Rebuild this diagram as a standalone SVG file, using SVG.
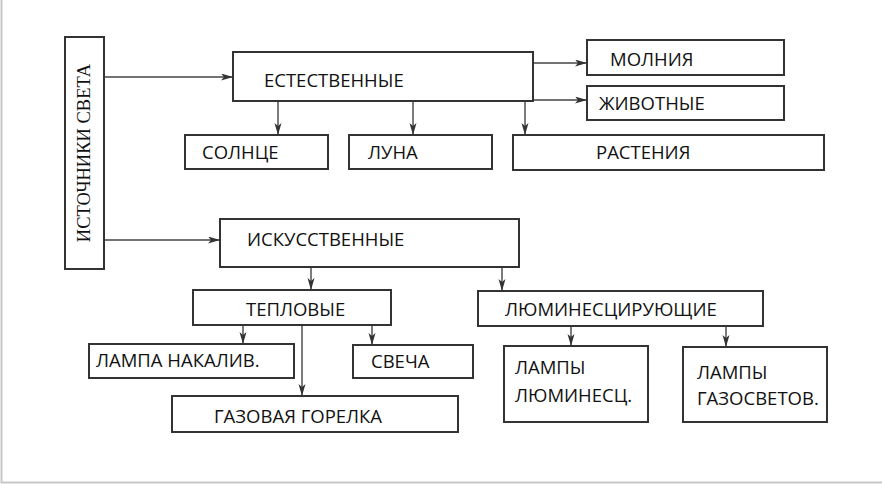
<svg xmlns="http://www.w3.org/2000/svg" width="882" height="484" viewBox="0 0 882 484">
<style>
.box{fill:#fff;stroke:#333;stroke-width:2}
.t{font-family:"Open Sans","Noto Sans","DejaVu Sans",sans-serif;font-size:18.5px;fill:#111}
.c{fill:none;stroke:#444;stroke-width:1.4;marker-end:url(#ah)}
</style>
<defs>
<marker id="ah" markerUnits="userSpaceOnUse" markerWidth="12" markerHeight="8" refX="11" refY="3.5" orient="auto">
<path d="M0,0 L12,3.5 L0,7 L3,3.5 z" fill="#333"/>
</marker>
</defs>
<rect x="0" y="0" width="882" height="484" fill="#fff"/>
<path d="M1.5,0 V482.5 H882" fill="none" stroke="#c8c8c8" stroke-width="2"/>
<g id="connectors">
<path class="c" d="M104,77 H232"/>
<path class="c" d="M104,240 H219"/>
<path class="c" d="M533,63 H586"/>
<path class="c" d="M533,100 H586"/>
<path class="c" d="M278,101 V134"/>
<path class="c" d="M413,101 V134"/>
<path class="c" d="M525,101 V134"/>
<path class="c" d="M311,267 V289"/>
<path class="c" d="M502,267 V290"/>
<path class="c" d="M243,325 V343"/>
<path class="c" d="M302,326 V395"/>
<path class="c" d="M372,325 V344"/>
<path class="c" d="M571,326 V345"/>
<path class="c" d="M726,326 V346"/>
</g>
<g id="sources">
<rect class="box" x="65" y="37" width="39" height="232"/>
<text x="90" y="153" transform="rotate(-90 90 153)" text-anchor="middle" font-family="'Liberation Serif','Times New Roman',serif" font-size="18.5" fill="#111">ИСТОЧНИКИ СВЕТА</text>
</g>
<g id="natural">
<rect class="box" x="233" y="52" width="300" height="49"/>
<text class="t" x="264" y="87">ЕСТЕСТВЕННЫЕ</text>
</g>
<g id="lightning">
<rect class="box" x="587" y="40" width="197" height="35"/>
<text class="t" x="610" y="66">МОЛНИЯ</text>
</g>
<g id="animals">
<rect class="box" x="587" y="86" width="197" height="34"/>
<text class="t" x="599" y="110">ЖИВОТНЫЕ</text>
</g>
<g id="sun">
<rect class="box" x="185" y="135" width="143" height="34"/>
<text class="t" x="202" y="159">СОЛНЦЕ</text>
</g>
<g id="moon">
<rect class="box" x="349" y="135" width="143" height="34"/>
<text class="t" x="368" y="159">ЛУНА</text>
</g>
<g id="plants">
<rect class="box" x="513" y="135" width="311" height="35"/>
<text class="t" x="596" y="159">РАСТЕНИЯ</text>
</g>
<g id="artificial">
<rect class="box" x="220" y="219" width="299" height="48"/>
<text class="t" x="247" y="246">ИСКУССТВЕННЫЕ</text>
</g>
<g id="thermal">
<rect class="box" x="193" y="290" width="198" height="35"/>
<text class="t" x="246" y="316">ТЕПЛОВЫЕ</text>
</g>
<g id="luminescent">
<rect class="box" x="478" y="291" width="285" height="35"/>
<text class="t" x="505" y="316">ЛЮМИНЕСЦИРУЮЩИЕ</text>
</g>
<g id="incandescent">
<rect class="box" x="89" y="344" width="205" height="34"/>
<text class="t" x="96" y="367">ЛАМПА НАКАЛИВ.</text>
</g>
<g id="candle">
<rect class="box" x="353" y="345" width="120" height="33"/>
<text class="t" x="371" y="368">СВЕЧА</text>
</g>
<g id="gasburner">
<rect class="box" x="172" y="396" width="286" height="36"/>
<text class="t" x="214" y="423">ГАЗОВАЯ ГОРЕЛКА</text>
</g>
<g id="fluorlamps">
<rect class="box" x="504" y="346" width="144" height="76"/>
<text class="t" x="515" y="374">ЛАМПЫ</text>
<text class="t" x="515" y="402">ЛЮМИНЕСЦ.</text>
</g>
<g id="gaslamps">
<rect class="box" x="683" y="347" width="144" height="75"/>
<text class="t" x="697" y="379">ЛАМПЫ</text>
<text class="t" x="697" y="405">ГАЗОСВЕТОВ.</text>
</g>
</svg>
